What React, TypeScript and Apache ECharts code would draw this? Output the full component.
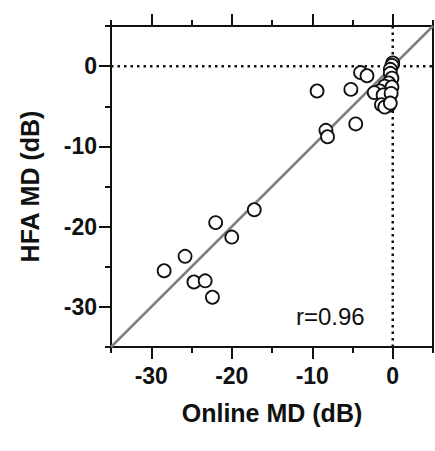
import React, { useEffect, useRef } from "react";
import * as echarts from "echarts";

const onlineMD: number[] = [
  -17.2, -22.0, -20.0, -25.8, -28.4, -24.7, -23.3, -22.4,
  -9.4, -5.2, -4.0, -3.2, -4.6, -8.3, -8.1,
  0.0, -0.1, -0.3, -0.3, -0.1, -0.5, -1.0, -0.1, -1.6, -2.3, -1.2, -0.2, -1.4, -0.5, -1.0, -0.3,
];
const hfaMD: number[] = [
  -17.9, -19.5, -21.3, -23.7, -25.5, -26.9, -26.75, -28.8,
  -3.1, -2.9, -0.8, -1.2, -7.2, -8.0, -8.8,
  0.4, 0.1, -0.4, -0.9, -1.5, -2.1, -2.5, -2.6, -3.1, -3.3, -3.6, -3.4, -4.8, -4.9, -5.1, -4.6,
];
const majorTicks: number[] = [-30, -20, -10, 0];
const yMajorTicks: number[] = [0, -10, -20, -30];
const axisMin = -35;
const axisMax = 5;
const rText = "r=0.96";
const xTitle = "Online MD (dB)";
const yTitle = "HFA MD (dB)";

const FONT = "'Liberation Sans', Arial, Helvetica, sans-serif";

export default function App() {
  const ref = useRef<HTMLDivElement>(null);
  useEffect(() => {
    if (!ref.current) return;
    const chart = echarts.init(ref.current, undefined, { renderer: "svg" });
    const black = "#111";
    // ticks every 10 starting at -35 (short), minor ticks half-way (long, at -30, -20, ...)
    const baseAxis = {
      type: "value",
      min: axisMin,
      max: axisMax,
      interval: 10,
      splitLine: { show: false },
      minorSplitLine: { show: false },
      axisTick: { show: true, length: 6, lineStyle: { color: black, width: 2 } },
      minorTick: { show: true, splitNumber: 2, length: 12, lineStyle: { color: black, width: 2 } },
      axisLine: { show: true, onZero: false, lineStyle: { color: black, width: 2 } },
    };
    const labelStyle = {
      color: black,
      fontFamily: FONT,
      fontWeight: "bold" as const,
      fontSize: 23,
    };
    const fmt = (v: number) => String(Math.round(v)).replace("\u2212", "-");
    const option: any = {
      animation: false,
      backgroundColor: "#fff",
      grid: { left: 111, right: 2, top: 26, bottom: 104, containLabel: false },
      xAxis: [
        {
          ...baseAxis,
          position: "bottom",
          axisLabel: { ...labelStyle, margin: 17, customValues: majorTicks, formatter: fmt },
          name: xTitle,
          nameLocation: "middle",
          nameGap: 53,
          nameTextStyle: { ...labelStyle, fontSize: 25 },
        },
        {
          ...baseAxis,
          position: "top",
          axisLabel: { show: false },
        },
      ],
      yAxis: [
        {
          ...baseAxis,
          position: "left",
          axisLabel: { ...labelStyle, margin: 14, customValues: yMajorTicks, formatter: fmt },
          name: yTitle,
          nameLocation: "middle",
          nameGap: 69,
          nameRotate: 90,
          nameTextStyle: { ...labelStyle, fontSize: 25 },
        },
        {
          ...baseAxis,
          position: "right",
          axisTick: { show: false },
          minorTick: { show: false },
          axisLabel: { show: false },
        },
      ],
      graphic: [
        {
          type: "text",
          left: 296,
          top: 304,
          style: { text: rText, fill: black, font: `normal 24px ${FONT}` },
          z: 10,
        },
      ],
      series: [
        {
          type: "line",
          xAxisIndex: 0,
          yAxisIndex: 0,
          data: [
            [axisMin, axisMin],
            [axisMax, axisMax],
          ],
          symbol: "none",
          lineStyle: { color: "#7f7f7f", width: 2.5 },
          z: 1,
        },
        {
          type: "line",
          xAxisIndex: 0,
          yAxisIndex: 0,
          data: [
            [0, axisMin],
            [0, axisMax],
          ],
          symbol: "none",
          lineStyle: { color: black, width: 2.5, type: [2.5, 4] },
          z: 2,
        },
        {
          type: "line",
          xAxisIndex: 0,
          yAxisIndex: 0,
          data: [
            [axisMin, 0],
            [axisMax, 0],
          ],
          symbol: "none",
          lineStyle: { color: black, width: 2.5, type: [2.5, 4] },
          z: 2,
        },
        {
          type: "scatter",
          xAxisIndex: 0,
          yAxisIndex: 0,
          data: onlineMD.map((x, i) => [x, hfaMD[i]]),
          symbol: "circle",
          symbolSize: 13,
          itemStyle: { color: "#fff", borderColor: black, borderWidth: 1.8, opacity: 1 },
          z: 5,
        },
      ],
    };
    chart.setOption(option);
    return () => chart.dispose();
  }, []);
  return (
    <div
      ref={ref}
      style={{ position: "fixed", left: 0, top: 0, width: 435, height: 451, background: "#fff" }}
    />
  );
}
